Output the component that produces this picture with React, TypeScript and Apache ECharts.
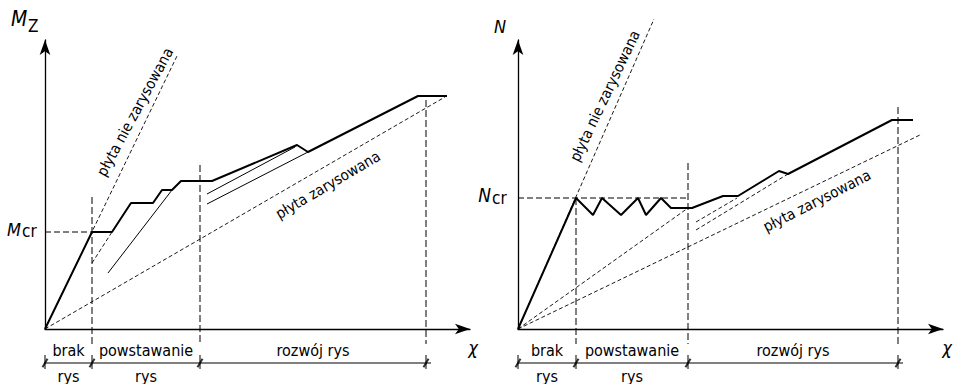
import React, { useEffect, useRef } from "react";
import * as echarts from "echarts";

type Pt = [number, number];

// ---------- left diagram: bending moment Mz vs curvature χ ----------
const mzResponse: Pt[] = [
  [0, 0], [4.7, 9.7], [6.7, 9.7], [8.6, 12.6], [10.8, 12.6], [11.7, 13.9],
  [12.7, 13.9], [13.6, 14.8], [16.7, 14.8], [25.2, 18.4], [26.3, 17.7],
  [37.3, 23.3], [40.2, 23.3],
];
const mzUncracked: Pt[] = [[0, 0], [13.2, 27.3]];
const mzCracked: Pt[] = [[0, 0], [40.0, 23.2]];
const mzCrackSolid: Pt[][] = [
  [[6.3, 5.6], [12.7, 13.9]],
  [[16.2, 13.5], [25.0, 18.2]],
  [[16.2, 12.5], [26.3, 17.7]],
];
const mzCrackDashed: Pt[][] = [[[4.7, 6.6], [6.7, 9.7]]];
const mzCr = 9.7;
const mzStageX = [0, 4.7, 15.5, 38.1];
const mzStageTop = [0, 13.2, 16.4, 22.9];

// ---------- right diagram: axial force N vs χ ----------
const nResponse: Pt[] = [
  [0, 0], [5.8, 13.1], [7.5, 11.4], [8.4, 13.1], [10.3, 11.4], [12.0, 13.1],
  [12.8, 11.4], [14.3, 13.1], [15.3, 12.1], [17.4, 12.1], [20.5, 13.3],
  [22.0, 13.3], [26.1, 15.8], [27.0, 15.5], [37.4, 20.9], [39.5, 20.9],
];
const nUncracked: Pt[] = [[0, 0], [13.6, 31.0]];
const nCracked: Pt[] = [[0, 0], [40.4, 19.5]];
const nSecant: Pt[] = [[0, 0], [17.0, 12.1]];
const nCrackDashed: Pt[][] = [
  [[17.8, 10.7], [21.9, 13.1]],
  [[17.8, 9.9], [27.0, 15.5]],
];
const nCr = 13.1;
const nStageX = [0, 5.8, 17.0, 38.0];
const nStageTop = [0, 13.1, 16.6, 22.2];

const stageNames: [string, string][] = [
  ["brak", "rys"],
  ["powstawanie", "rys"],
  ["rozwój rys", ""],
];

// ---------- layout ----------
const UNIT = 10; // px per axis unit
const X_MAX = 42.5;
const Y_MAX = 28.9;
const ORIGIN_Y = 329;
const PANEL_LEFT = [45, 518];
const DIM_Y = -3.4;
const FONT = '"DejaVu Sans Condensed", "DejaVu Sans", sans-serif';
const INK = "#000";

const px = (p: number, x: number, y: number): Pt => [
  PANEL_LEFT[p] + x * UNIT,
  ORIGIN_Y - y * UNIT,
];

function line(p: number, data: Pt[], width: number, dash?: number[]) {
  return {
    type: "line",
    xAxisIndex: p,
    yAxisIndex: p,
    data,
    symbol: "none",
    showSymbol: false,
    clip: false,
    silent: true,
    lineStyle: { color: INK, width, type: dash ?? "solid", cap: "butt" },
  };
}

function panelSeries(
  p: number,
  response: Pt[],
  dashedRefs: Pt[][],
  crackSolid: Pt[][],
  crackDashed: Pt[][],
  cr: number,
  crEndX: number,
  stageX: number[],
  stageTop: number[]
) {
  const s: any[] = [];
  const fine = [4, 2.5];
  const coarse = [7, 3];
  dashedRefs.forEach((d) => s.push(line(p, d, 0.9, fine)));
  crackDashed.forEach((d) => s.push(line(p, d, 0.9, fine)));
  crackSolid.forEach((d) => s.push(line(p, d, 1)));
  s.push(line(p, [[0, cr], [crEndX, cr]], 1, [6, 3]));
  for (let i = 1; i < stageX.length; i++) {
    s.push(line(p, [[stageX[i], stageTop[i]], [stageX[i], -1.5]], 1, coarse));
  }
  // dimension line with extension marks and ticks
  s.push(line(p, [[stageX[0] - 0.5, DIM_Y], [stageX[stageX.length - 1] + 0.5, DIM_Y]], 1));
  stageX.forEach((x) => s.push(line(p, [[x, DIM_Y + 0.8], [x, DIM_Y - 0.6]], 1)));
  s.push({
    type: "scatter",
    xAxisIndex: p,
    yAxisIndex: p,
    data: stageX.map((x) => [x, DIM_Y]),
    symbol: "rect",
    symbolSize: [2, 10],
    symbolRotate: -30,
    clip: false,
    silent: true,
    itemStyle: { color: INK },
  });
  s.push(line(p, response, 2));
  return s;
}

function text(
  t: string,
  x: number,
  y: number,
  size: number,
  extra: Record<string, any> = {},
  rotationDeg = 0
) {
  return {
    type: "text",
    x,
    y,
    rotation: (rotationDeg * Math.PI) / 180,
    silent: true,
    style: {
      text: t,
      font: `${extra.italic ? "italic " : ""}${size}px ${FONT}`,
      fill: INK,
      align: extra.align ?? "center",
      verticalAlign: "middle",
    },
  };
}

function stageTexts(p: number, stageX: number[]) {
  const g: any[] = [];
  for (let i = 0; i < stageNames.length; i++) {
    const cx = (px(p, stageX[i], 0)[0] + px(p, stageX[i + 1], 0)[0]) / 2;
    g.push(text(stageNames[i][0], cx, 350, 16));
    if (stageNames[i][1]) g.push(text(stageNames[i][1], cx, 376, 16));
  }
  return g;
}

const axisCommon = {
  axisTick: { show: false },
  axisLabel: { show: false },
  splitLine: { show: false },
};

const option: any = {
  animation: false,
  backgroundColor: "#fff",
  grid: PANEL_LEFT.map((l) => ({
    left: l,
    top: ORIGIN_Y - Y_MAX * UNIT,
    width: X_MAX * UNIT,
    height: Y_MAX * UNIT,
  })),
  xAxis: [0, 1].map((i) => ({
    type: "value",
    gridIndex: i,
    min: 0,
    max: X_MAX,
    axisLine: {
      show: true,
      onZero: false,
      symbol: ["none", "arrow"],
      symbolSize: [8, 15],
      lineStyle: { color: INK, width: 1.3 },
    },
    ...axisCommon,
  })),
  yAxis: [0, 1].map((i) => ({
    type: "value",
    gridIndex: i,
    min: 0,
    max: Y_MAX,
    axisLine: {
      show: true,
      onZero: false,
      symbol: ["none", "arrow"],
      symbolSize: [8, 15],
      lineStyle: { color: INK, width: 1.3 },
    },
    ...axisCommon,
  })),
  series: [
    ...panelSeries(0, mzResponse, [mzUncracked, mzCracked], mzCrackSolid, mzCrackDashed,
      mzCr, mzStageX[1], mzStageX, mzStageTop),
    ...panelSeries(1, nResponse, [nUncracked, nCracked, nSecant], [], nCrackDashed,
      nCr, nStageX[2], nStageX, nStageTop),
  ],
  graphic: [
    // axis names
    text("M", 11, 19, 21, { italic: true, align: "left" }),
    text("Z", 28, 26, 17, { align: "left" }),
    text("N", 500, 26, 18, { italic: true }),
    text("χ", 473, 347, 18, { italic: true }),
    text("χ", 947, 347, 18, { italic: true }),
    // cracking thresholds
    text("M", 21, 229, 18, { italic: true, align: "right" }),
    text("cr", 22, 231, 17, { align: "left" }),
    text("N", 491, 195, 19, { italic: true, align: "right" }),
    text("cr", 492, 198, 17, { align: "left" }),
    // reference stiffness lines
    text("płyta nie zarysowana", 135, 112, 15, {}, 61.5),
    text("płyta zarysowana", 328, 185, 15, {}, 30.5),
    text("płyta nie zarysowana", 605, 96, 15, {}, 64.5),
    text("płyta zarysowana", 817, 201, 15, {}, 27),
    ...stageTexts(0, mzStageX),
    ...stageTexts(1, nStageX),
  ],
};

export default function App() {
  const ref = useRef<HTMLDivElement>(null);
  useEffect(() => {
    if (!ref.current) return;
    const chart = echarts.init(ref.current, null, { renderer: "svg" });
    chart.setOption(option);
    return () => chart.dispose();
  }, []);
  return (
    <div
      ref={ref}
      style={{ position: "fixed", left: 0, top: 0, width: 955, height: 384 }}
    />
  );
}
